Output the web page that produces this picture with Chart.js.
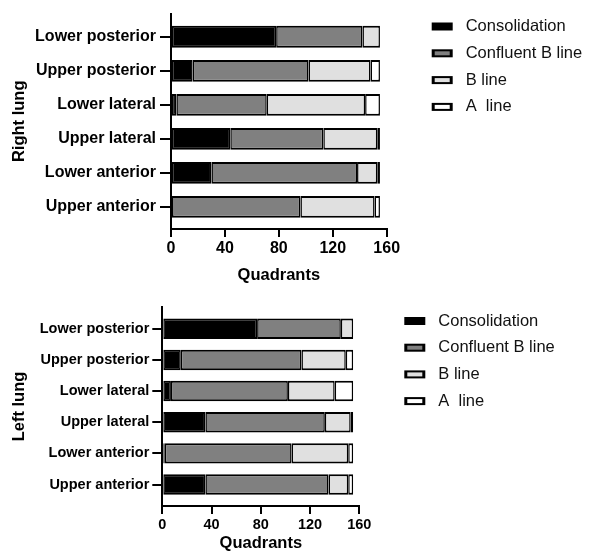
<!DOCTYPE html>
<html>
<head>
<meta charset="utf-8">
<script src="https://cdn.jsdelivr.net/npm/chart.js@4.4.1/dist/chart.umd.min.js"></script>
<style>
  html, body { margin: 0; padding: 0; background: #fff; }
  #wrap { position: relative; width: 589px; height: 554px; }
  .box { position: absolute; left: 0; width: 589px; }
</style>
</head>
<body>
<div id="wrap">
  <div class="box" style="top:0;height:288px"><canvas id="chartRight"></canvas></div>
  <div class="box" style="top:288px;height:266px"><canvas id="chartLeft"></canvas></div>
</div>
<script>
// DATOS
const regions = ["Lower posterior", "Upper posterior", "Lower lateral", "Upper lateral", "Lower anterior", "Upper anterior"];
const seriesNames = ["Consolidation", "Confluent B line", "B line", "A  line"];
const xTicks = [0, 40, 80, 120, 160];

// right lung
const rightConsolidation = [78, 16, 4, 44, 30, 0];
const rightConfluent = [64, 86, 67, 69, 108, 96];
const rightBLine = [13, 46, 73, 40, 15, 55];
const rightALine = [0, 7, 11, 2, 2, 4];

// left lung
const leftConsolidation = [77, 15, 7, 35, 2, 35];
const leftConfluent = [68, 98, 95, 97, 103, 100];
const leftBLine = [10, 36, 38, 21, 46, 16];
const leftALine = [0, 6, 15, 2, 4, 4];

const colors = ["#000000", "#808080", "#e0e0e0", "#ffffff"];
const FONT = "'Liberation Sans', Arial, sans-serif";

// leyenda a la derecha
const sideLegend = {
  id: "sideLegend",
  afterDraw(chart, args, o) {
    const ctx = chart.ctx;
    ctx.save();
    ctx.font = o.size + "px " + FONT;
    ctx.textBaseline = "middle";
    chart.data.datasets.forEach((ds, i) => {
      const y = o.y + i * o.step;
      ctx.fillStyle = "#000";
      ctx.fillRect(o.x, y - 4, 21, 8);
      ctx.fillStyle = ds.backgroundColor;
      ctx.fillRect(o.x + 3, y - 2, 15, 4);
      ctx.fillStyle = "#111";
      ctx.fillText(ds.label, o.textX, y);
    });
    ctx.restore();
  },
};

function lungChart(id, title, values, s) {
  const datasets = values.map((vals, k) => ({
    label: seriesNames[k],
    data: vals.map((v, i) => ({ x: v, y: i })),
    backgroundColor: colors[k],
    borderColor: "#000",
    borderWidth: { top: 2, bottom: 2, left: 1.5, right: 1.5 },
    borderSkipped: false,
    barPercentage: s.barPct,
    categoryPercentage: 0.8,
  }));

  new Chart(document.getElementById(id), {
    type: "bar",
    data: { datasets },
    options: {
      indexAxis: "y",
      responsive: true,
      maintainAspectRatio: false,
      animation: false,
      layout: { padding: { top: s.top, right: s.right, left: 0, bottom: 0 } },
      plugins: {
        legend: { display: false },
        tooltip: { enabled: false },
        sideLegend: s.legend,
      },
      scales: {
        x: {
          type: "linear",
          stacked: true,
          min: 0,
          max: 160,
          afterBuildTicks: (sc) => {
            sc.ticks = xTicks.map((v) => ({ value: v }));
          },
          afterFit: (sc) => {
            sc.height = s.xHeight;
          },
          border: { color: "#000", width: 2 },
          grid: { drawOnChartArea: false, color: "#000", lineWidth: 2, tickLength: 8 },
          ticks: {
            color: "#000",
            padding: s.xPad,
            maxRotation: 0,
            font: { family: FONT, size: s.tickSize, weight: "bold" },
          },
          title: {
            display: true,
            text: "Quadrants",
            color: "#000",
            font: { family: FONT, size: 16.5, weight: "bold" },
            padding: { top: 0, bottom: s.xTitlePad },
          },
        },
        y: {
          type: "linear",
          stacked: true,
          reverse: true,
          offset: false,
          min: s.ymin,
          max: s.ymax,
          afterBuildTicks: (sc) => {
            sc.ticks = regions.map((r, i) => ({ value: i }));
          },
          afterFit: (sc) => {
            sc.width = s.yWidth;
          },
          border: { color: "#000", width: 2 },
          grid: { offset: false, drawOnChartArea: false, color: "#000", lineWidth: 2, tickLength: s.yTick },
          ticks: {
            color: "#000",
            padding: s.yPad,
            autoSkip: false,
            callback: (v) => regions[v],
            font: { family: FONT, size: s.labelSize, weight: "bold" },
          },
          title: {
            display: true,
            text: title,
            color: "#000",
            font: { family: FONT, size: 16.5, weight: "bold" },
            padding: { top: 10, bottom: 0 },
          },
        },
      },
    },
    plugins: [sideLegend],
  });
}

lungChart("chartRight", "Right lung", [rightConsolidation, rightConfluent, rightBLine, rightALine], {
  top: 12, right: 202.3, yWidth: 171, xHeight: 59,
  ymin: -0.68, ymax: 5.65, barPct: 0.8,
  tickSize: 16, labelSize: 16, xPad: 2, xTitlePad: 3, yTick: 11, yPad: 4,
  legend: { x: 431.7, y: 26.5, step: 26.8, textX: 465.7, size: 16.5 },
});

lungChart("chartLeft", "Left lung", [leftConsolidation, leftConfluent, leftBLine, leftALine], {
  top: 19, right: 229.7, yWidth: 162.3, xHeight: 48,
  ymin: -0.7, ymax: 5.69, barPct: 0.82,
  tickSize: 14.5, labelSize: 14.5, xPad: 2, xTitlePad: 0.5, yTick: 10, yPad: 3,
  legend: { x: 404.3, y: 33, step: 26.7, textX: 438.3, size: 16.5 },
});
</script>
</body>
</html>
